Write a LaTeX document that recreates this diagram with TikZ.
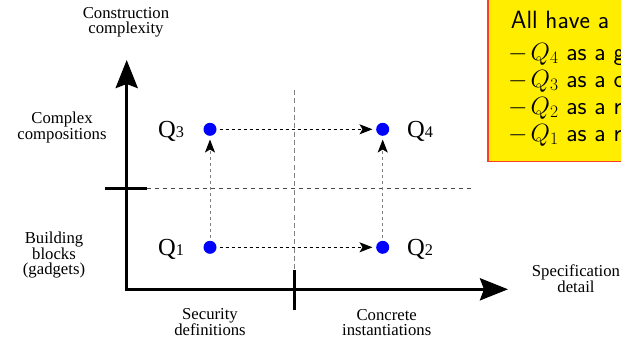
\RequirePackage{fix-cm}
\documentclass[tikz,border=0pt]{standalone}
\usepackage{fontspec}
\setmainfont{Liberation Serif}
\usetikzlibrary{arrows.meta}
\definecolor{boxyellow}{RGB}{255,238,0}
\definecolor{boxred}{RGB}{255,60,40}
\begin{document}
\begin{tikzpicture}[x=1pt,y=-1pt,
  lbl/.style={align=center, inner sep=0pt, font=\fontsize{16.7}{15.5}\selectfont},
  qlbl/.style={inner sep=0pt, anchor=base west},
  qdot/.style={circle, fill=blue, inner sep=0pt, minimum size=13pt},
  axis/.style={line width=3.5pt, {Stealth[length=28pt,width=22pt,inset=4pt]}-{Stealth[length=28pt,width=22pt,inset=4pt]}},
  axtick/.style={line width=3pt},
  divider/.style={line width=1.2pt, dash pattern=on 4pt off 4pt},
  vdivider/.style={line width=1.2pt, dash pattern=on 5pt off 3.3pt, black!50},
  flow/.style={line width=1pt, dash pattern=on 3pt off 3pt, -{Stealth[length=13pt,width=10pt,inset=3pt,color=black]}, shorten <=3pt, shorten >=3.5pt},
  boxtxt/.style={inner sep=0pt, anchor=base west, font=\sffamily\fontsize{25}{27}\selectfont}
]
\clip (0,0) rectangle (621,338);
\useasboundingbox (0,0) rectangle (621,338);

% info box
\node[draw=boxred, fill=boxyellow, line width=1.5pt, anchor=north west,
      minimum width=160pt, minimum height=165.5pt, inner sep=0pt] (infobox) at (487.3,-5) {};
\node[boxtxt] (t0) at (510.7,28) {All have a};
\node[boxtxt] (t4) at (508,60) {$-$\hspace{3pt}$Q_4$ as a g};
\node[boxtxt] (t3) at (508,87) {$-$\hspace{3pt}$Q_3$ as a c};
\node[boxtxt] (t2) at (508,114) {$-$\hspace{3pt}$Q_2$ as a r};
\node[boxtxt] (t1) at (508,141) {$-$\hspace{3pt}$Q_1$ as a r};

% axes
\coordinate (ytop) at (126.7,60);
\coordinate (xend) at (508,289.3);
\draw[axis] (ytop) |- (xend);

\coordinate (yt1) at (105,188.3);
\coordinate (yt2) at (146.7,188.3);
\draw[axtick] (yt1) -- (yt2);
\coordinate (xt1) at (294.3,270);
\coordinate (xt2) at (294.3,310);
\draw[axtick] (xt1) -- (xt2);

% dividers
\coordinate (hd2) at (471,188.3);
\draw[divider, black!70] (yt2) -- (hd2);
\coordinate (vd1) at (294.3,90);
\draw[vdivider] (vd1) -- (xt1);

% points
\node[qdot] (q1) at (210,247.3) {};
\node[qdot] (q2) at (382.7,247.3) {};
\node[qdot] (q3) at (210,129.3) {};
\node[qdot] (q4) at (382.7,129.3) {};

\draw[flow] (q3) -- (q4);
\draw[flow] (q1) -- (q2);
\draw[flow, black!50] (q1) -- (q3);
\draw[flow, black!50] (q2) -- (q4);

% point labels
\node[qlbl] (lq3) at (158,137.7) {\fontsize{24.5}{24}\selectfont Q\fontsize{16.3}{16}\selectfont 3};
\node[qlbl] (lq1) at (158,255.7) {\fontsize{24.5}{24}\selectfont Q\fontsize{16.3}{16}\selectfont 1};
\node[qlbl] (lq4) at (407,137.7) {\fontsize{24.5}{24}\selectfont Q\fontsize{16.3}{16}\selectfont 4};
\node[qlbl] (lq2) at (407,255.7) {\fontsize{24.5}{24}\selectfont Q\fontsize{16.3}{16}\selectfont 2};

% axis labels
\node[lbl] (ly) at (126,22.5) {Construction\\complexity};
\node[lbl] (lcc) at (62,127.4) {Complex\\compositions};
\node[lbl] (lbb) at (54,255.2) {Building\\blocks\\(gadgets)};
\node[lbl] (lsd) at (210,321.8) {Security\\definitions};
\node[lbl] (lci) at (386.7,322.5) {Concrete\\instantiations};
\node[lbl] (lsp) at (576,278.5) {Specification\\detail};
\end{tikzpicture}
\end{document}
